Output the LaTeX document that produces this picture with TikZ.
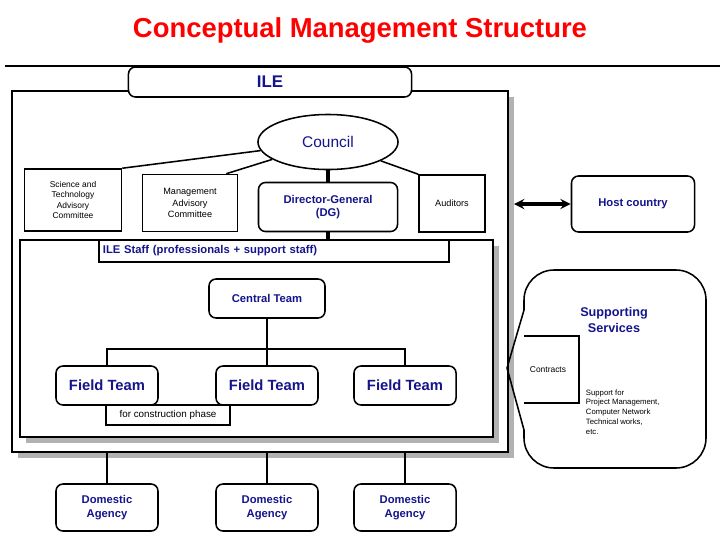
\documentclass[tikz,border=0pt]{standalone}
\usepackage{fontspec}
\setmainfont{Liberation Sans}
\usetikzlibrary{shapes.geometric, arrows, positioning, calc}
\definecolor{navy}{RGB}{20,20,140}
\tikzstyle{box} = [rectangle, draw=black, line width=1.1pt, fill=white, align=center, font=\scriptsize]
\tikzstyle{team} = [rectangle, rounded corners=5pt, draw=black, line width=1.1pt, fill=white, align=center, text=navy, font=\bfseries\fontsize{10.5}{12}\selectfont]
\tikzstyle{link} = [line width=1.1pt]
\tikzstyle{arrow} = [line width=2.2pt,<->,>=stealth]

\begin{document}
\begin{tikzpicture}[x=0.025cm, y=-0.025cm]
    \useasboundingbox (0,0) rectangle (720,540);
    % Title
    \node (title) at (360,30) [text=red, font=\bfseries\fontsize{19.5}{23}\selectfont] {Conceptual Management Structure};
    \draw [line width=2pt] (5,66) -- (720,66);

    % Frames with shadows
    \fill [gray!60] (18,97) rectangle (514,458);
    \draw [link, fill=white] (12,91) rectangle (508,452);
    \node (frame) at (260,271.5) [minimum width=12.4cm, minimum height=9.025cm, inner sep=0pt] {};
    \fill [gray!60] (26,246) rectangle (499,443);
    \draw [link, fill=white] (20,240) rectangle (493,437);
    \node (inner) at (256.5,338.5) [minimum width=11.825cm, minimum height=4.925cm, inner sep=0pt] {};

    % Governing bodies
    \node (ile) at (270,82) [team, minimum width=7.075cm, minimum height=0.75cm, font=\bfseries\large] {ILE};
    \node (council) at (328,142) [ellipse, draw, link, fill=white, text=navy, minimum width=3.5cm, minimum height=1.375cm, font=\fontsize{11}{13}\selectfont] {Council};
    \node (stac) at (73,200) [box, minimum width=2.425cm, minimum height=1.55cm, font=\fontsize{6}{7.5}\selectfont] {Science and\\Technology\\Advisory\\Committee};
    \node (mac) at (190,203) [box, minimum width=2.375cm, minimum height=1.425cm, font=\fontsize{6.5}{8}\selectfont] {Management\\Advisory\\Committee};
    \node (dg) at (328,207) [team, minimum width=3.475cm, minimum height=1.225cm, font=\bfseries\footnotesize] {Director-General\\(DG)};
    \node (aud) at (452,203.5) [box, minimum width=1.65cm, minimum height=1.425cm, font=\fontsize{6.5}{8}\selectfont] {Auditors};
    \node (host) at (633,204) [team, minimum width=3.075cm, minimum height=1.4cm, font=\bfseries\footnotesize] {Host country};
    \coordinate (hostend) at (514,204);

    \draw [link] (council) -- (stac.north east);
    \draw [link] (council) -- ([xshift=-0.3cm]mac.north east);
    \draw [link] (council) -- (aud.north west);
    \draw [line width=2.2pt] (council) -- (dg);
    \draw [line width=2.2pt] (dg.south) -- (dg.south |- inner.north);
    \draw [arrow] (hostend) -- (host.west);

    % Staff
    \node (staff) at (274,251) [box, text width=8.55cm, minimum height=0.55cm, inner xsep=0.1cm, align=left, text=navy, font=\bfseries\footnotesize] {ILE Staff (professionals + support staff)};
    \node (central) at (267,298.5) [team, minimum width=2.9cm, minimum height=0.975cm, font=\bfseries\footnotesize] {Central Team};
    \node (field1) at (107,385.5) [team, minimum width=2.55cm, minimum height=0.975cm] {Field Team};
    \node (field2) at (267,385.5) [team, minimum width=2.55cm, minimum height=0.975cm] {Field Team};
    \node (field3) at (405,385.5) [team, minimum width=2.55cm, minimum height=0.975cm] {Field Team};
    \node (constr) at (168,415) [box, minimum width=3.1cm, minimum height=0.5cm, font=\fontsize{7}{8}\selectfont] {for construction phase};

    \draw [link] (central) -- (field2);
    \draw [link] (field1) -- (field1 |- 0,349) -| (field3);

    % Domestic agencies
    \foreach \i in {1,2,3} {
        \node (dom\i) at (field\i |- 0,507.5) [team, minimum width=2.55cm, minimum height=1.175cm, font=\bfseries\footnotesize] {Domestic\\Agency};
        \draw [link] (field\i |- frame.south) -- (dom\i);
    }

    % Supporting services
    \draw [link] (507,368) -- (524,310) [rounded corners=0.75cm] -- (524,270) -- (706,270) -- (706,468) -- (524,468) [sharp corners] -- (524,430) -- cycle;
    \draw [link] (524,336) -- (579,336) -- (579,403) -- (524,403);
    \node (supp) at (614,320) [text=navy, font=\bfseries\small, align=center] {Supporting\\Services};
    \node (contracts) at (548,370) [font=\fontsize{6}{7}\selectfont] {Contracts};
    \node (suppnote) at (581,412) [anchor=west, align=left, font=\fontsize{5.5}{7}\selectfont] {Support for\\Project Management,\\Computer Network\\Technical works,\\etc.};
\end{tikzpicture}
\end{document}
